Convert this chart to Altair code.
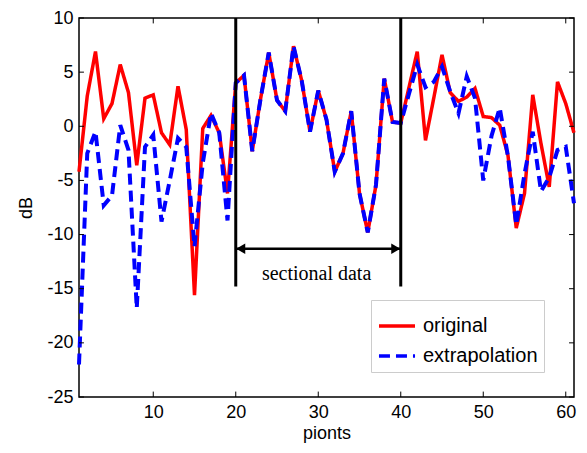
import altair as alt
import pandas as pd

# ---- data ----
points = list(range(1, 62))
original = [
    -4.2, 2.8, 6.9, 0.7, 2.1, 5.7, 3.1, -3.6, 2.6, 2.9,
    -0.6, -1.7, 3.7, -0.3, -15.6, -0.2, 1.0, -0.6, -6.2, 4.0,
    4.7, -2.3, 2.5, 6.8, 2.4, 1.4, 7.4, 4.2, -0.5, 3.3,
    0.6, -4.2, -2.5, 1.4, -6.2, -9.8, -5.4, 4.4, 0.4, 0.3,
    3.6, 6.9, -1.3, 2.6, 6.6, 3.1, 2.3, 2.7, 3.5, 0.9,
    0.8, 0.1, -2.7, -9.4, -6.2, 2.9, -1.6, -5.6, 4.1, 2.1,
    -0.6,
]
extrapolation = [
    -22.0, -2.5, -0.5, -7.3, -6.4, 0.1, -2.2, -16.8, -1.9, -0.8,
    -8.8, -5.0, -1.1, -1.9, -11.1, -3.4, 1.2, -0.6, -8.7, 4.0,
    4.7, -2.3, 2.5, 6.8, 2.4, 1.4, 7.4, 4.2, -0.5, 3.3,
    0.6, -4.2, -2.5, 1.4, -6.2, -9.8, -5.4, 4.4, 0.4, 0.3,
    3.0, 5.7, 3.6, 4.1, 5.5, 3.2, 1.2, 4.6, 2.6, -5.0,
    -0.9, 1.7, -2.8, -9.1, -4.4, -0.5, -6.0, -4.7, -2.2, -1.9,
    -7.1,
]
series_names = ["original", "extrapolation"]
series_colors = ["#ff0000", "#0000ff"]
series_dashes = [[1, 0], [11, 6]]

x_ticks = [10, 20, 30, 40, 50, 60]
y_ticks = [-25, -20, -15, -10, -5, 0, 5, 10]
x_domain = [1, 61]
y_domain = [-25, 10]

section_bounds = [20, 40]
section_line_bottom = -14.8
arrow_y = -11.3
arrow_heads_x = [20.6, 39.4]
arrow_heads_shape = ["triangle-left", "triangle-right"]
label_text = ["sectional data"]
label_x = [29.8]
label_y = [-13.6]

# ---- tables ----
df_orig = pd.DataFrame({"x": points, "value": original, "series": series_names[0]})
df_ext = pd.DataFrame({"x": points, "value": extrapolation, "series": series_names[1]})

tick_rows = []
for t in x_ticks:
    tick_rows.append({"x": t, "x2": t, "y": y_domain[0], "y2": y_domain[0] + 0.5})
    tick_rows.append({"x": t, "x2": t, "y": y_domain[1], "y2": y_domain[1] - 0.5})
for t in y_ticks:
    tick_rows.append({"x": x_domain[0], "x2": x_domain[0] + 0.6, "y": t, "y2": t})
    tick_rows.append({"x": x_domain[1], "x2": x_domain[1] - 0.6, "y": t, "y2": t})
df_ticks = pd.DataFrame(tick_rows)

df_vlines = pd.DataFrame({"x": section_bounds, "y": [y_domain[1]] * 2,
                          "y2": [section_line_bottom] * 2})
df_arrow = pd.DataFrame({"x": [section_bounds[0]], "x2": [section_bounds[1]], "y": [arrow_y]})
df_heads = pd.DataFrame({"x": arrow_heads_x, "y": [arrow_y] * 2, "shape": arrow_heads_shape})
df_label = pd.DataFrame({"x": label_x, "y": label_y, "text": label_text})

xs = alt.Scale(domain=x_domain, nice=False, zero=False)
ys = alt.Scale(domain=y_domain, nice=False, zero=False)

legend = alt.Legend(title=None, orient="none", legendX=292, legendY=282,
                    symbolType="stroke", symbolStrokeWidth=3.5, symbolSize=1300,
                    labelFont="Liberation Sans", labelFontSize=20, labelColor="black",
                    strokeColor="#cccccc", fillColor="white", padding=6,
                    rowPadding=0, labelOffset=6)
color_enc = alt.Color(
    "series:N",
    scale=alt.Scale(domain=series_names, range=series_colors),
    legend=legend,
)
dash_enc = alt.StrokeDash(
    "series:N",
    scale=alt.Scale(domain=series_names, range=series_dashes),
    legend=legend,
)

x_axis = alt.Axis(values=x_ticks, title="pionts", labelPadding=6, titlePadding=3,
                  labelExpr="datum.value + ''")
y_axis = alt.Axis(values=y_ticks, title="dB", labelPadding=6, titlePadding=11,
                  labelExpr="datum.value + ''")

line_orig = alt.Chart(df_orig).mark_line(strokeWidth=3.5).encode(
    x=alt.X("x:Q", scale=xs, axis=x_axis),
    y=alt.Y("value:Q", scale=ys, axis=y_axis),
    color=color_enc,
    strokeDash=dash_enc,
)
line_ext = alt.Chart(df_ext).mark_line(strokeWidth=4).encode(
    x=alt.X("x:Q", scale=xs),
    y=alt.Y("value:Q", scale=ys),
    color=color_enc,
    strokeDash=dash_enc,
)

ticks = alt.Chart(df_ticks).mark_rule(color="black", strokeWidth=1).encode(
    x=alt.X("x:Q", scale=xs), x2="x2:Q",
    y=alt.Y("y:Q", scale=ys), y2="y2:Q",
)
vlines = alt.Chart(df_vlines).mark_rule(color="black", strokeWidth=3).encode(
    x=alt.X("x:Q", scale=xs), y=alt.Y("y:Q", scale=ys), y2="y2:Q",
)
arrow = alt.Chart(df_arrow).mark_rule(color="black", strokeWidth=2.5).encode(
    x=alt.X("x:Q", scale=xs), x2="x2:Q", y=alt.Y("y:Q", scale=ys),
)
heads = alt.Chart(df_heads).mark_point(filled=True, color="black", size=110, opacity=1).encode(
    x=alt.X("x:Q", scale=xs), y=alt.Y("y:Q", scale=ys),
    shape=alt.Shape("shape:N", scale=None),
)
label = alt.Chart(df_label).mark_text(font="Liberation Serif", fontSize=20, color="black").encode(
    x=alt.X("x:Q", scale=xs), y=alt.Y("y:Q", scale=ys), text="text:N",
)

chart = alt.layer(line_orig, line_ext, vlines, arrow, heads, label, ticks).properties(
    width=495, height=379,
    autosize=alt.AutoSizeParams(type="none"),
    padding={"left": 71, "top": 10, "right": 5, "bottom": 48},
).configure_view(
    stroke="black", strokeWidth=1.5,
).configure_axis(
    domain=False, grid=False, ticks=False,
    labelFont="Liberation Sans", labelFontSize=18, labelColor="black",
    titleFont="Liberation Sans", titleFontSize=18, titleFontWeight="normal", titleColor="black",
)

chart.save("out.html", embed_options={"renderer": "svg", "actions": False})
